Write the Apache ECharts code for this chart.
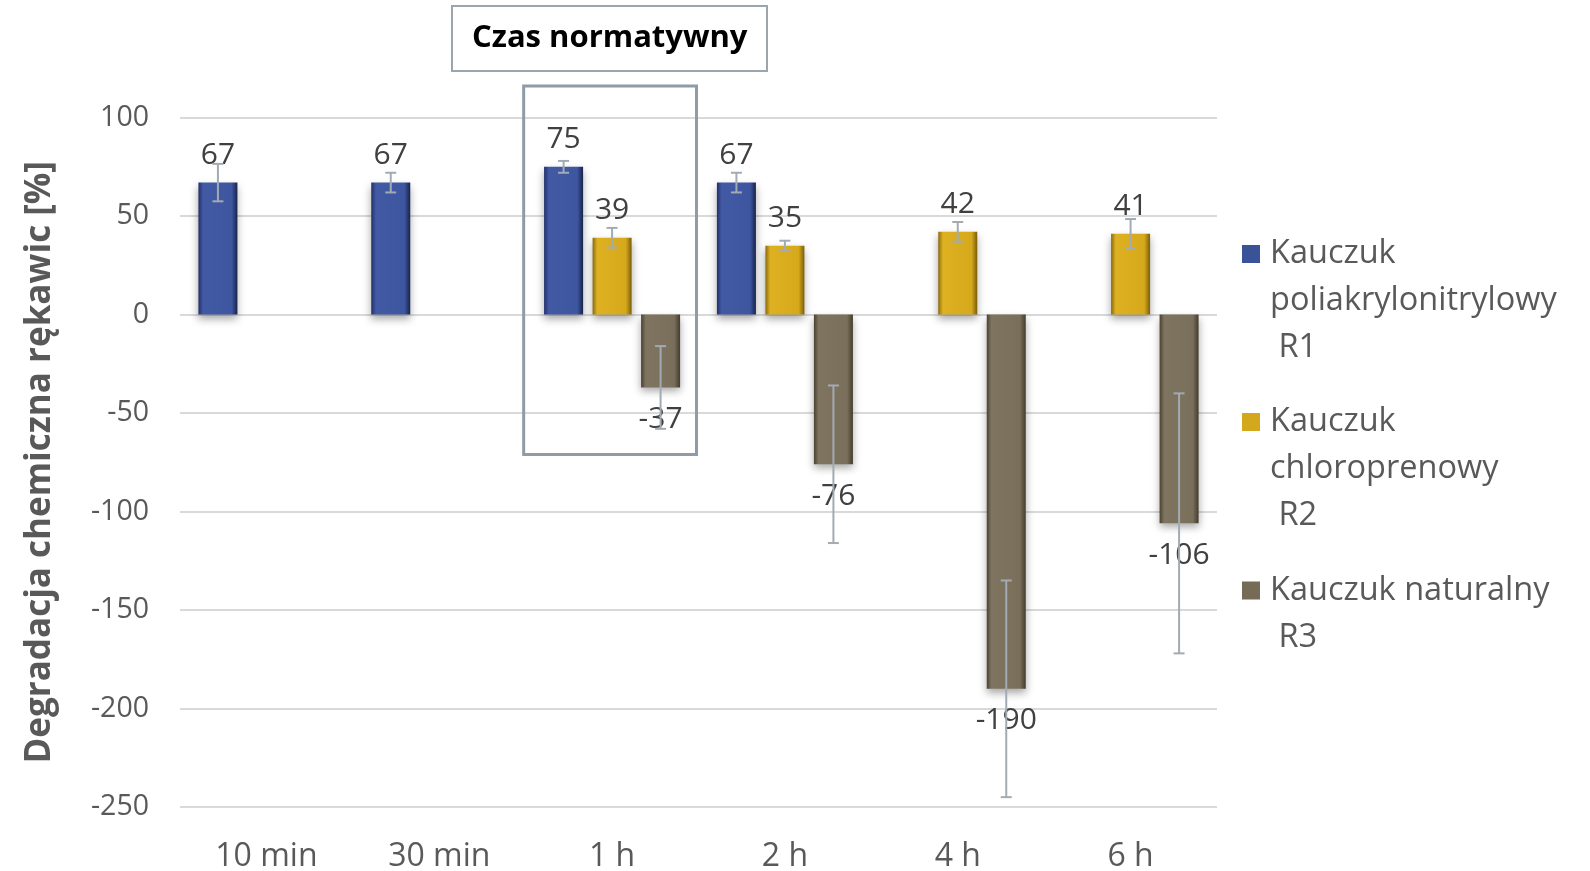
<!DOCTYPE html>
<html>
<head>
<meta charset="utf-8">
<script src="https://cdn.jsdelivr.net/npm/echarts@6/dist/echarts.min.js"></script>
<style>
  html, body { margin: 0; padding: 0; background: #fff; }
  #chart { width: 1590px; height: 871px; }
</style>
</head>
<body>
<div id="chart"></div>
<script>
const categories = ["10 min", "30 min", "1 h", "2 h", "4 h", "6 h"];
const seriesNames = [
  "Kauczuk\npoliakrylonitrylowy\n R1",
  "Kauczuk\nchloroprenowy\n R2",
  "Kauczuk naturalny\n R3",
];
const r1 = [67, 67, 75, 67, null, null];
const r2 = [null, null, 39, 35, 42, 41];
const r3 = [null, null, -37, -76, -190, -106];
// +/- error per bar
const r1Err = [9.5, 5, 3, 5, null, null];
const r2Err = [null, null, 5, 2.5, 5, 7.5];
const r3Err = [null, null, 21, 40, 55, 66];
const yTicks = { min: -250, max: 100, interval: 50 };
const highlight = { category: "1 h", from: -71, to: 116 };
const titleText = "Czas normatywny";
const yName = "Degradacja chemiczna rękawic [%]";

const FONT = "'Open Sans', 'Noto Sans', sans-serif";
const BAR_W = 39;
const BAR_GAP = 9.5;
const LEG_LH = 47;

function grad(stops) {
  return new echarts.graphic.LinearGradient(0, 0, 1, 0, [
    { offset: 0, color: stops[0] },
    { offset: 0.12, color: stops[1] },
    { offset: 0.85, color: stops[2] },
    { offset: 1, color: stops[3] },
  ]);
}
const colors = [
  grad(["#22306a", "#4259a4", "#3e569f", "#18234c"]),
  grad(["#8a6b0c", "#ddb121", "#d6a91c", "#7a5e0a"]),
  grad(["#4a4232", "#7f7460", "#7a6f5b", "#433b2d"]),
];
const legendColors = ["#3a5298", "#d4a81c", "#766b57"];

function barSeries(i, data) {
  const neg = i === 2;
  return {
    name: seriesNames[i],
    type: "bar",
    data: data,
    barWidth: BAR_W,
    barGap: (BAR_GAP / BAR_W) * 100 + "%",
    itemStyle: {
      color: colors[i],
      shadowColor: "rgba(0,0,0,0.35)",
      shadowBlur: 8,
      shadowOffsetY: 4,
    },
    label: {
      show: true,
      position: neg ? "bottom" : "top",
      distance: neg ? 17 : 12,
      color: "#404040",
      fontSize: 30,
      fontFamily: FONT,
    },
    z: 2,
  };
}

function errSeries(i, vals, errs) {
  const data = [];
  vals.forEach((v, k) => {
    if (v == null) return;
    data.push([k, v - errs[k], v + errs[k]]);
  });
  return {
    type: "custom",
    silent: true,
    clip: false,
    z: 5,
    encode: { x: 0, y: [1, 2] },
    data: data,
    renderItem(params, api) {
      const c = api.value(0);
      const lo = api.coord([c, api.value(1)]);
      const hi = api.coord([c, api.value(2)]);
      const x = lo[0] + (i - 1) * (BAR_W + BAR_GAP);
      const cap = 5.5;
      const style = { stroke: "#a2abb3", lineWidth: 2, fill: null };
      return {
        type: "group",
        children: [
          { type: "line", shape: { x1: x, y1: lo[1], x2: x, y2: hi[1] }, style },
          { type: "line", shape: { x1: x - cap, y1: lo[1], x2: x + cap, y2: lo[1] }, style },
          { type: "line", shape: { x1: x - cap, y1: hi[1], x2: x + cap, y2: hi[1] }, style },
        ],
      };
    },
  };
}

const highlightSeries = {
  type: "custom",
  silent: true,
  clip: false,
  z: 1,
  data: [[categories.indexOf(highlight.category), highlight.from, highlight.to]],
  renderItem(params, api) {
    const c = api.value(0);
    const top = api.coord([c, api.value(2)]);
    const bot = api.coord([c, api.value(1)]);
    const bw = api.size([1, 0])[0];
    return {
      type: "rect",
      shape: { x: top[0] - bw / 2 - 2, y: top[1], width: bw, height: bot[1] - top[1] },
      style: { fill: null, stroke: "#8f9ba6", lineWidth: 3 },
    };
  },
};

// icon box as tall as the text block, square drawn at the first line
function legendFor(i, top, lines) {
  const h = lines * LEG_LH;
  const y0 = LEG_LH / 2 - 9;
  const w = 23;
  const icon =
    "path://M0," + y0 + "L18," + y0 + "L18," + (y0 + 18) + "L0," + (y0 + 18) + "Z" +
    "M" + w + ",0L" + w + ",0.01L" + (w - 0.01) + ",0Z" +
    "M" + w + "," + h + "L" + w + "," + (h - 0.01) + "L" + (w - 0.01) + "," + h + "Z";
  return {
    data: [{ name: seriesNames[i], icon: icon, itemStyle: { color: legendColors[i] } }],
    left: 1242,
    top: top,
    padding: 0,
    orient: "vertical",
    itemWidth: w,
    itemHeight: h,
    itemGap: 0,
    textStyle: {
      color: "#595959",
      fontSize: 32.5,
      fontFamily: FONT,
      lineHeight: LEG_LH,
    },
  };
}

const chart = echarts.init(document.getElementById("chart"));
chart.setOption({
  animation: false,
  title: {
    text: titleText,
    left: 452,
    top: 6,
    padding: [17, 20],
    borderColor: "#9aa5ae",
    borderWidth: 2,
    textStyle: { color: "#000", fontSize: 31, fontWeight: "bold", fontFamily: FONT },
  },
  legend: [legendFor(0, 230.5, 3), legendFor(1, 398.5, 3), legendFor(2, 567, 2)],
  grid: { left: 180, right: 373, top: 117.6, bottom: 64, outerBoundsMode: "none" },
  xAxis: {
    type: "category",
    data: categories,
    axisLine: { show: false, onZero: false },
    axisTick: { show: false },
    axisLabel: { color: "#595959", fontSize: 32, fontFamily: FONT, margin: 34 },
  },
  yAxis: {
    type: "value",
    min: yTicks.min,
    max: yTicks.max,
    interval: yTicks.interval,
    name: yName,
    nameLocation: "middle",
    nameGap: 122,
    nameTextStyle: { color: "#595959", fontSize: 35, fontWeight: "bold", fontFamily: FONT },
    axisLine: { show: false },
    axisTick: { show: false },
    axisLabel: { color: "#595959", fontSize: 28.5, fontFamily: FONT, margin: 31 },
    splitLine: { lineStyle: { color: "#d9d9d9", width: 2 } },
  },
  series: [
    barSeries(0, r1),
    barSeries(1, r2),
    barSeries(2, r3),
    errSeries(0, r1, r1Err),
    errSeries(1, r2, r2Err),
    errSeries(2, r3, r3Err),
    highlightSeries,
  ],
});
</script>
</body>
</html>
